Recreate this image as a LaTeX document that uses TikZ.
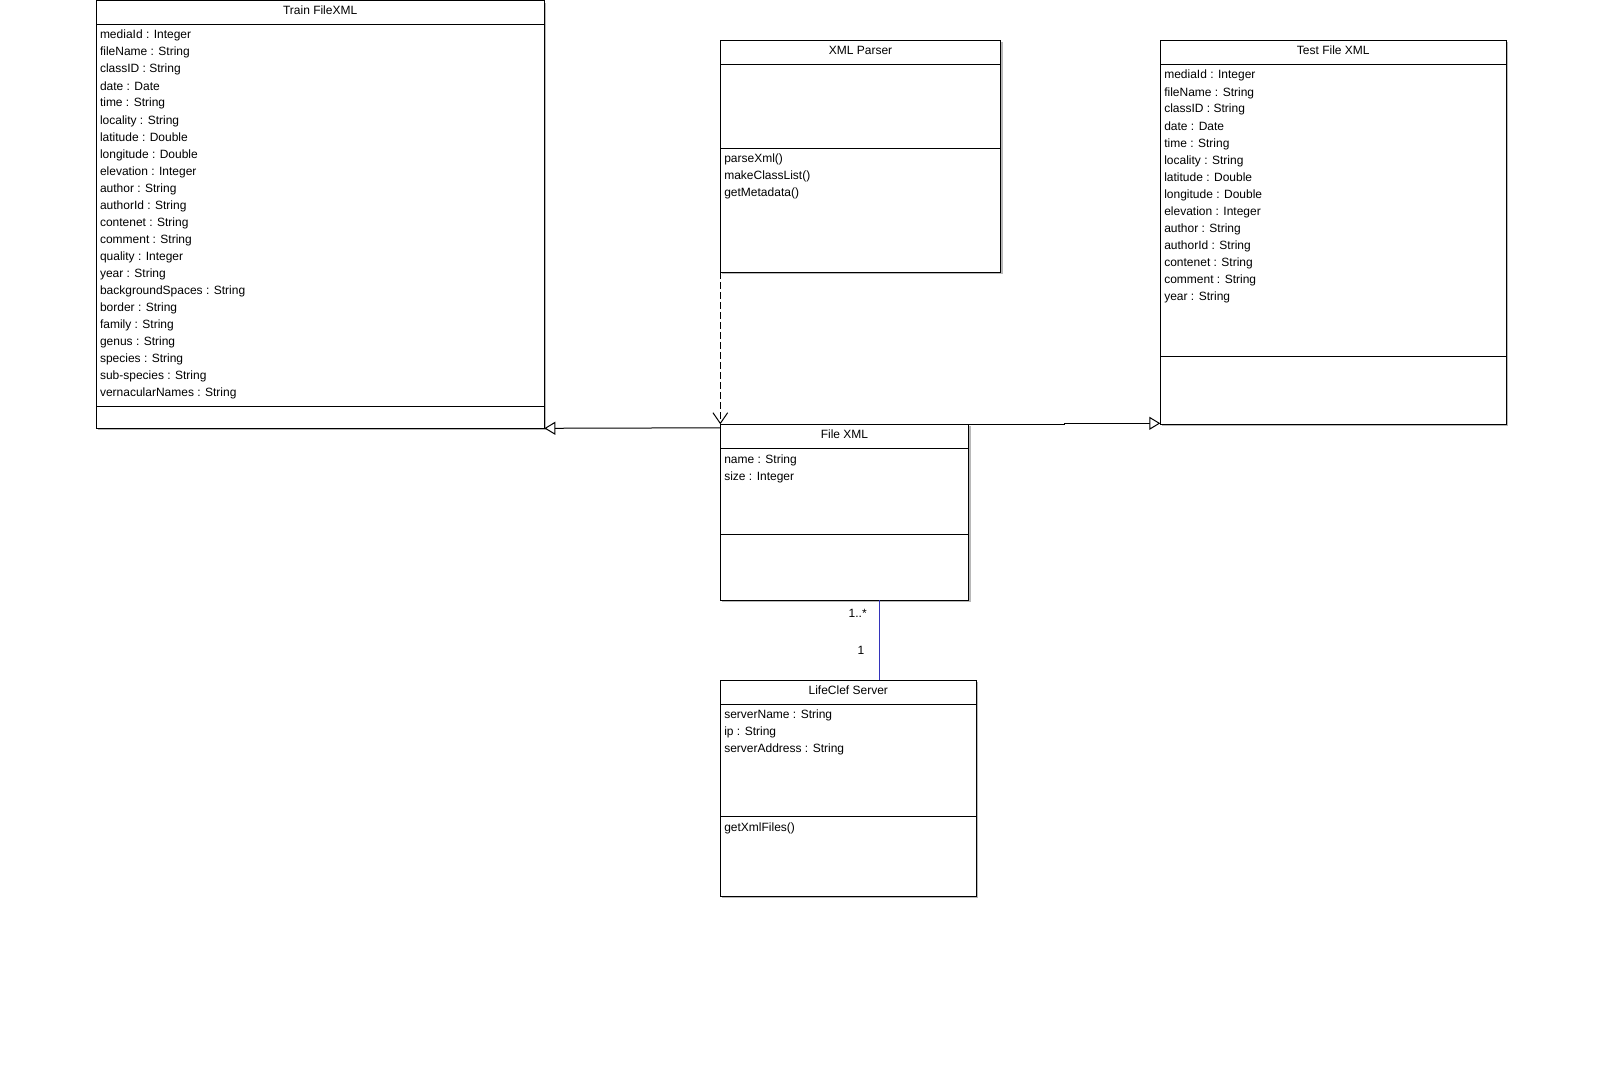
\documentclass[tikz,border=0pt]{standalone}
\usepackage{fontspec}
\setmainfont{Liberation Sans}
\usetikzlibrary{arrows.meta,calc}

\definecolor{assocblue}{RGB}{51,51,187}
\definecolor{shadowgray}{RGB}{184,184,184}

\tikzset{
  classbox/.style={draw=black, fill=white, line width=0.75pt, anchor=north west,
                   inner sep=0pt, outer sep=0pt},
  classline/.style={draw=black, line width=0.75pt},
  boxshadow/.style={fill=shadowgray},
  classtext/.style={inner sep=0pt, outer sep=0pt, font=\fontsize{9}{12.75}\selectfont},
  depend/.style={draw=black, line width=0.75pt, dash pattern=on 5.25pt off 2.25pt,
                 -{Straight Barb[length=8pt,width=11pt]}},
  general/.style={draw=black, line width=0.75pt,
                  -{Triangle[length=8.25pt,width=9.75pt,fill=white]}},
  assoc/.style={draw=assocblue, line width=0.75pt},
}

% class box: name, left, top, right, header rule, attribute rule, bottom, title
\newcommand{\umlbox}[8]{%
  \fill[boxshadow] (#2+2,#3+2) rectangle (#4+2,#7+2);
  \pgfmathsetmacro\boxw{(#4-#2)*0.75}%
  \pgfmathsetmacro\boxh{(#7-#3)*0.75}%
  \node[classbox, minimum width=\boxw pt, minimum height=\boxh pt] (#1) at (#2,#3) {};
  \draw[classline] (#2,#5) -- (#4,#5);
  \draw[classline] (#2,#6) -- (#4,#6);
  \node[classtext, anchor=base] (#1-title) at ({(#2+#4)/2},#5-10) {#8};
}
% compartment rows: name prefix, x, first baseline, list of rows
\newcommand{\umlrows}[4]{%
  \foreach \rowtext [count=\i from 0] in {#4} {
    \node[classtext, anchor=base west] (#1-\i) at (#2,#3+17*\i) {\rowtext};
  }
}

\begin{document}
\begin{tikzpicture}[x=0.75pt,y=-0.75pt]
\useasboundingbox (0,0) rectangle (1602,1088);

% Train FileXML
\umlbox{train}{96}{1}{544.3}{24.3}{406.3}{428.3}{Train FileXML}
\umlrows{train-a}{100}{39}{mediaId : Integer, fileName : String, classID : String,
  date : Date, time : String, locality : String, latitude : Double,
  longitude : Double, elevation : Integer, author : String, authorId : String,
  contenet : String, comment : String, quality : Integer, year : String,
  backgroundSpaces : String, border : String, family : String, genus : String,
  species : String, sub-species : String, vernacularNames : String}

% XML Parser
\umlbox{parser}{720.3}{40.3}{1000.7}{64.3}{148.3}{272}{XML Parser}
\umlrows{parser-m}{724.3}{162.8}{parseXml(), makeClassList(), getMetadata()}

% Test File XML
\umlbox{test}{1160.3}{40.3}{1506.3}{64.3}{356.3}{424.3}{Test File XML}
\umlrows{test-a}{1164.3}{79}{mediaId : Integer, fileName : String, classID : String,
  date : Date, time : String, locality : String, latitude : Double,
  longitude : Double, elevation : Integer, author : String, authorId : String,
  contenet : String, comment : String, year : String}

% File XML
\umlbox{filexml}{720.3}{424.3}{968.7}{448.3}{534.3}{600.3}{File XML}
\umlrows{filexml-a}{724.3}{463}{name : String, size : Integer}

% LifeClef Server
\umlbox{lifeclef}{720.3}{680.3}{976.3}{704.3}{816.3}{896}{LifeClef Server}
\umlrows{lifeclef-a}{724.3}{718.7}{serverName : String, ip : String, serverAddress : String}
\umlrows{lifeclef-m}{724.3}{831}{getXmlFiles()}

% dependency: parser uses File XML
\draw[depend] (parser.south west) -- (filexml.north west);

% generalizations
\draw[general] ($(filexml.north west)+(0,3.5)$) -- (train.south east);
\coordinate (gstep) at (1064,423.3);
\draw[general] (filexml.north east) -| (gstep) -- (gstep -| test.west);

% association with multiplicities
\draw[assoc] ($(filexml.south west)+(159,0)$) -- ($(lifeclef.north west)+(159,0)$);
\node[classtext, anchor=base] (mult-many) at (857.7,617) {1..*};
\node[classtext, anchor=base] (mult-one) at (861,654.3) {1};

\end{tikzpicture}
\end{document}
